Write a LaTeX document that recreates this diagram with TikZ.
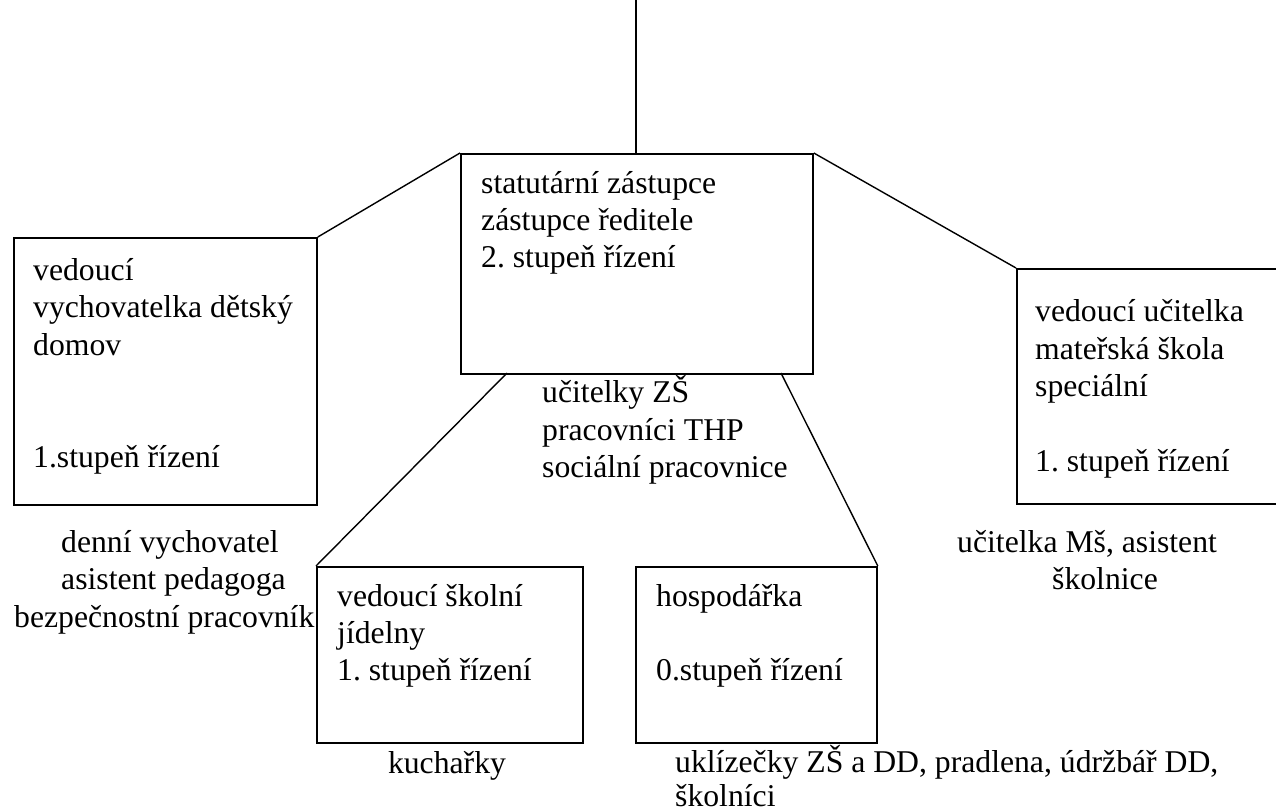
\documentclass[tikz,border=0pt]{standalone}
\usepackage{fontspec}
\setmainfont{Liberation Serif}
\frenchspacing
\begin{document}
\begin{tikzpicture}[x=1pt,y=-1pt,
  box/.style={draw=black, line width=1.8pt, anchor=north west, inner sep=0pt},
  conn/.style={draw=black, line width=1.4pt},
  lbl/.style={anchor=base west, inner sep=0pt, font=\fontsize{31.7}{37.5}\selectfont},
  clbl/.style={anchor=base, inner sep=0pt, font=\fontsize{31.7}{37.5}\selectfont}]
\useasboundingbox (0,0) rectangle (1276,811);
\clip (0,0) rectangle (1276,811);
% boxes
\node[box, minimum width=352pt, minimum height=220pt] (C) at (460,153) {};
\node[box, minimum width=303pt, minimum height=267pt] (L) at (13,237) {};
\node[box, minimum width=290pt, minimum height=235pt] (R) at (1016,268) {};
\node[box, minimum width=266pt, minimum height=176pt] (BL) at (316,566) {};
\node[box, minimum width=241pt, minimum height=176pt] (BM) at (635,566) {};
% connector end points
\coordinate (top) at (636,0);
\coordinate (ctop) at (636,153);
\coordinate (cbl) at (507,373);
\coordinate (cbr) at (781,373);
% connectors
\draw[conn] (top) -- (ctop);
\draw[conn] (C.north west) -- (L.north east);
\draw[conn] (C.north east) -- (R.north west);
\draw[conn] (cbl) -- (BL.north west);
\draw[conn] (cbr) -- (BM.north east);
% central box text
\node[lbl] (c1) at (481,193) {statutární zástupce};
\node[lbl] (c2) at (481,230) {zástupce ředitele};
\node[lbl] (c3) at (481,267) {2. stupeň řízení};
% left box text
\node[lbl] (l1) at (33,280) {vedoucí};
\node[lbl] (l2) at (33,317) {vychovatelka dětský};
\node[lbl] (l3) at (33,355) {domov};
\node[lbl] (l4) at (33,467) {1.stupeň řízení};
% right box text
\node[lbl] (r1) at (1035,321) {vedoucí učitelka};
\node[lbl] (r2) at (1035,359) {mateřská škola};
\node[lbl] (r3) at (1035,396) {speciální};
\node[lbl] (r4) at (1035,471) {1. stupeň řízení};
% under central box
\node[lbl] (u1) at (542,402) {učitelky ZŠ};
\node[lbl] (u2) at (542,440) {pracovníci THP};
\node[lbl] (u3) at (542,477) {sociální pracovnice};
% under left box
\node[lbl] (d1) at (61,552) {denní vychovatel};
\node[lbl] (d2) at (61,589) {asistent pedagoga};
\node[lbl] (d3) at (14,627) {bezpečnostní pracovník};
% under right box
\node[lbl] (m1) at (957,552) {učitelka Mš, asistent};
\node[lbl] (m2) at (1052,589) {školnice};
% bottom-left box text
\node[lbl] (b1) at (337,606) {vedoucí školní};
\node[lbl] (b2) at (337,643) {jídelny};
\node[lbl] (b3) at (337,680) {1. stupeň řízení};
% bottom-middle box text
\node[lbl] (h1) at (656,606) {hospodářka};
\node[lbl] (h2) at (656,680) {0.stupeň řízení};
% below bottom boxes
\node[clbl] (k1) at (447,773) {kuchařky};
\node[lbl] (k2) at (675,772) {uklízečky ZŠ a DD, pradlena, údržbář DD,};
\node[lbl] (k3) at (675,806) {školníci};
\end{tikzpicture}
\end{document}
